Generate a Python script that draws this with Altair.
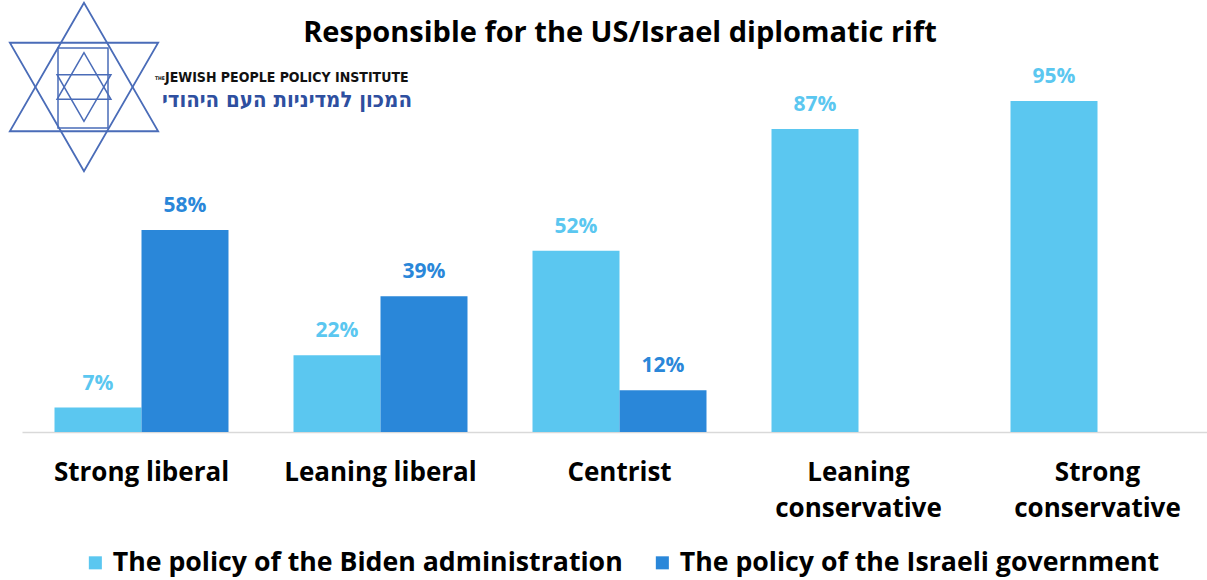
import altair as alt
import pandas as pd

categories = ["Strong liberal", "Leaning liberal", "Centrist", "Leaning conservative", "Strong conservative"]
series = ["The policy of the Biden administration", "The policy of the Israeli government"]
biden = [7, 22, 52, 87, 95]
israel = [58, 39, 12, None, None]
colors = ["#5BC7F0", "#2A87D9"]

rows = []
for c, b, i in zip(categories, biden, israel):
    if b is not None:
        rows.append({"category": c, "series": series[0], "value": b})
    if i is not None:
        rows.append({"category": c, "series": series[1], "value": i})
df = pd.DataFrame(rows)

FONT = "Open Sans"

x_enc = alt.X(
    "category:N",
    sort=categories,
    scale=alt.Scale(paddingInner=0.272, paddingOuter=0.136, range=[0, 1195]),
    axis=alt.Axis(
        title=None,
        labelAngle=0,
        labelFont=FONT,
        labelFontWeight="bold",
        labelFontSize=26,
        labelColor="#000000",
        labelPadding=27,
        labelLineHeight=36,
        labelLimit=400,
        labelExpr="indexof(datum.label, 'conservative') > 0 ? split(datum.label, ' ') : datum.label",
        ticks=False,
        domainColor="#D9D9D9",
        domainWidth=1.5,
        grid=False,
    ),
)
xo_enc = alt.XOffset("series:N", sort=series, scale=alt.Scale(domain=series, paddingInner=0))
y_enc = alt.Y("value:Q", scale=alt.Scale(domain=[0, 124], nice=False), axis=None)
color_enc = alt.Color(
    "series:N",
    sort=series,
    scale=alt.Scale(domain=series, range=colors),
    legend=alt.Legend(
        title=None,
        orient="none",
        legendX=60,
        legendY=549,
        direction="horizontal",
        columns=2,
        symbolType="square",
        symbolSize=170,
        symbolStrokeWidth=0,
        labelFont=FONT,
        labelFontWeight="bold",
        labelFontSize=26.7,
        labelColor="#000000",
        labelLimit=700,
        labelOffset=4,
        columnPadding=26,
        padding=0,
    ),
)

bars = alt.Chart(df).mark_bar().encode(x=x_enc, xOffset=xo_enc, y=y_enc, color=color_enc)

labels = alt.Chart(df).transform_calculate(pct="datum.value + '%'").mark_text(
    font=FONT, fontWeight="bold", fontSize=21, baseline="alphabetic", dy=-18
).encode(
    x=x_enc,
    xOffset=xo_enc,
    y=y_enc,
    text="pct:N",
    color=alt.Color("series:N", sort=series, scale=alt.Scale(domain=series, range=colors), legend=None),
)

title_df = pd.DataFrame({"t": ["Responsible for the US/Israel diplomatic rift"]})
title = alt.Chart(title_df).mark_text(
    font=FONT, fontWeight="bold", fontSize=29, color="#000000", baseline="middle", align="center"
).encode(x=alt.value(598), y=alt.value(33), text="t:N")

# Logo (decorative)
logo_color = "#4A6CB8"
tri = pd.DataFrame({"shape": ["triangle-up", "triangle-down"], "yy": [67, 107]})
star = alt.Chart(tri).mark_point(filled=False, strokeWidth=1.8, color=logo_color, opacity=1, size=22000).encode(
    x=alt.value(62), y=alt.Y("yy:Q", scale=None), shape=alt.Shape("shape:N", scale=None, legend=None)
)
tri2 = pd.DataFrame({"shape": ["triangle-up", "triangle-down"], "yy": [76, 98]})
star2 = alt.Chart(tri2).mark_point(filled=False, strokeWidth=1.5, color=logo_color, opacity=1, size=2900).encode(
    x=alt.value(62), y=alt.Y("yy:Q", scale=None), shape=alt.Shape("shape:N", scale=None, legend=None)
)
rect = alt.Chart(pd.DataFrame({"a": [0]})).mark_rect(
    filled=False, stroke=logo_color, strokeWidth=1.5
).encode(x=alt.value(36), x2=alt.value(86), y=alt.value(48), y2=alt.value(128))

logo_text = pd.DataFrame({"t": ["JEWISH PEOPLE POLICY INSTITUTE"]})
logo1 = alt.Chart(logo_text).mark_text(
    font="DejaVu Sans Condensed", fontWeight="bold", fontSize=14, color="#111111",
    align="left", baseline="middle"
).encode(x=alt.value(143), y=alt.value(78), text="t:N")
the_txt = alt.Chart(pd.DataFrame({"t": ["THE"]})).mark_text(
    font="DejaVu Sans Condensed", fontWeight="bold", fontSize=5, color="#111111", align="left", baseline="middle"
).encode(x=alt.value(133), y=alt.value(78), text="t:N")
heb = alt.Chart(pd.DataFrame({"t": ["המכון למדיניות העם היהודי"]})).mark_text(
    font="DejaVu Sans Condensed", fontWeight="bold", fontSize=22, color="#2E4FA0", align="right", baseline="middle"
).encode(x=alt.value(390), y=alt.value(100), text="t:N")

chart = alt.layer(bars, labels, title, star, star2, rect, the_txt, logo1, heb).properties(
    width=1183,
    height=432,
    padding={"left": 22, "top": 0, "right": 2, "bottom": 148},
    autosize=alt.AutoSizeParams(type="none"),
    background="#FFFFFF",
).configure_view(stroke=None)

chart.save("out.html", embed_options={"renderer": "svg", "actions": False})
